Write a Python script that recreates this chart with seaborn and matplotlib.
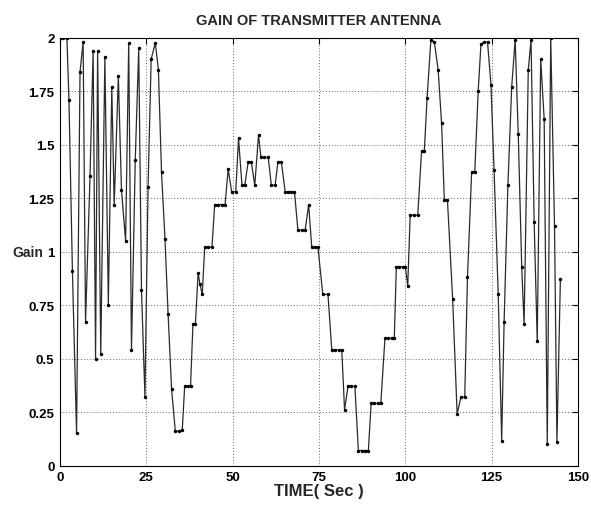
import numpy as np
import pandas as pd
import matplotlib
matplotlib.use("Agg")
import matplotlib.pyplot as plt
import seaborn as sns

time_s = [0, 1, 2, 2.6, 3.6, 4.8, 5.8, 6.7, 7.4, 8.7, 9.6, 10.3, 10.9, 11.8, 13.0, 14.0, 15.0, 15.7,
          16.9, 17.8, 19.0, 19.9, 20.7, 21.8, 22.8, 23.6, 24.6, 25.5, 26.4, 27.6, 28.5, 29.4, 30.4,
          31.3, 32.3, 33.4, 34.4, 35.4, 36.1, 37.0, 37.8, 38.5, 39.2, 40.0, 40.5, 41.2, 41.9, 43.0,
          44.0, 44.8, 45.8, 46.8, 47.8, 48.7, 49.7, 50.9, 51.7, 52.7, 53.5, 54.5, 55.4, 56.4, 57.5,
          58.2, 59.2, 60.3, 61.2, 62.3, 63.1, 64.1, 65.2, 66.1, 67.0, 67.9, 68.9, 70.0, 71.0, 72.0,
          72.9, 73.8, 74.7, 76.1, 77.6, 78.7, 79.7, 80.7, 81.6, 82.4, 83.4, 84.4, 85.4, 86.4, 87.4,
          88.4, 89.3, 90.1, 91.0, 92.0, 92.9, 94.1, 95.0, 96.0, 96.8, 97.4, 98.3, 99.2, 100.0, 100.7,
          101.4, 102.5, 103.6, 104.7, 105.5, 106.3, 107.4, 108.4, 109.5, 110.5, 111.3, 112.2, 113.7,
          115.0, 116.1, 117.2, 118.0, 119.2, 120.1, 121.1, 121.9, 122.8, 123.8, 124.8, 125.7, 126.9,
          127.9, 128.6, 129.7, 130.8, 131.8, 132.7, 133.7, 134.4, 135.6, 136.4, 137.3, 138.2, 139.2,
          140.2, 141.1, 142.1, 143.2, 143.9, 144.9]

gain = [2.0, 2.0, 2.0, 1.71, 0.91, 0.15, 1.84, 1.98, 0.67, 1.355, 1.94, 0.50, 1.94, 0.52, 1.91, 0.75,
        1.77, 1.22, 1.82, 1.29, 1.05, 1.975, 0.54, 1.43, 1.95, 0.82, 0.32, 1.30, 1.90, 1.975, 1.85,
        1.37, 1.06, 0.71, 0.36, 0.16, 0.16, 0.165, 0.37, 0.37, 0.37, 0.66, 0.66, 0.90, 0.85, 0.80,
        1.02, 1.02, 1.02, 1.22, 1.22, 1.22, 1.22, 1.385, 1.28, 1.28, 1.53, 1.31, 1.31, 1.42, 1.42,
        1.31, 1.545, 1.44, 1.44, 1.44, 1.31, 1.31, 1.42, 1.42, 1.28, 1.28, 1.28, 1.28, 1.10, 1.10,
        1.10, 1.22, 1.02, 1.02, 1.02, 0.80, 0.80, 0.54, 0.54, 0.54, 0.54, 0.26, 0.37, 0.37, 0.37,
        0.07, 0.07, 0.07, 0.07, 0.29, 0.29, 0.29, 0.29, 0.595, 0.595, 0.595, 0.595, 0.93, 0.93, 0.93,
        0.93, 0.84, 1.17, 1.17, 1.17, 1.47, 1.47, 1.72, 1.99, 1.98, 1.85, 1.60, 1.24, 1.24, 0.78,
        0.24, 0.32, 0.32, 0.88, 1.37, 1.37, 1.75, 1.97, 1.98, 1.98, 1.78, 1.38, 0.80, 0.117, 0.67,
        1.31, 1.77, 1.99, 1.55, 0.93, 0.66, 1.85, 1.99, 1.14, 0.58, 1.90, 1.62, 0.10, 2.0, 1.12,
        0.11, 0.87]

x_ticks = [0, 25, 50, 75, 100, 125, 150]
y_ticks = [0, 0.25, 0.5, 0.75, 1, 1.25, 1.5, 1.75, 2]
y_tick_labels = ["0", "0.25", "0.5", "0.75", "1", "1.25", "1.5", "1.75", "2"]

sns.set_style("white")
plt.rcParams['font.family'] = ['Liberation Sans', 'DejaVu Sans']

df = pd.DataFrame({"time": time_s, "gain": gain})

fig = plt.figure(figsize=(5.91, 5.06), dpi=100)
ax = fig.add_axes([0.1015, 0.078, 0.8765, 0.8455])

sns.lineplot(data=df, x="time", y="gain", ax=ax, sort=False, color="#2a2a2a",
             linewidth=0.9, marker="o", markersize=2.5, markeredgewidth=0,
             markerfacecolor="black")

ax.set_xlim(0, 150)
ax.set_ylim(0, 2)
ax.set_xticks(x_ticks)
ax.set_yticks(y_ticks)
ax.set_yticklabels(y_tick_labels)
ax.grid(True, linestyle=(0, (1, 2)), color="#666666", linewidth=0.7)
for s in ax.spines.values():
    s.set_visible(True)
    s.set_color("black")
    s.set_linewidth(0.8)
ax.tick_params(direction="in", length=4, width=0.8, top=True, right=True,
               labelsize=9.5, colors="black", pad=4)
for lbl in ax.get_xticklabels() + ax.get_yticklabels():
    lbl.set_fontweight("bold")

ax.set_title("GAIN OF TRANSMITTER ANTENNA", fontsize=10.5, fontweight="bold", pad=10)
ax.set_xlabel("TIME( Sec )", fontsize=12, fontweight="bold", labelpad=0)
ax.set_ylabel("Gain", fontsize=10, fontweight="bold", rotation=0,
              ha="center", va="center")
ax.yaxis.set_label_coords(-0.062, 0.5)

fig.savefig("out.png", dpi=100)
